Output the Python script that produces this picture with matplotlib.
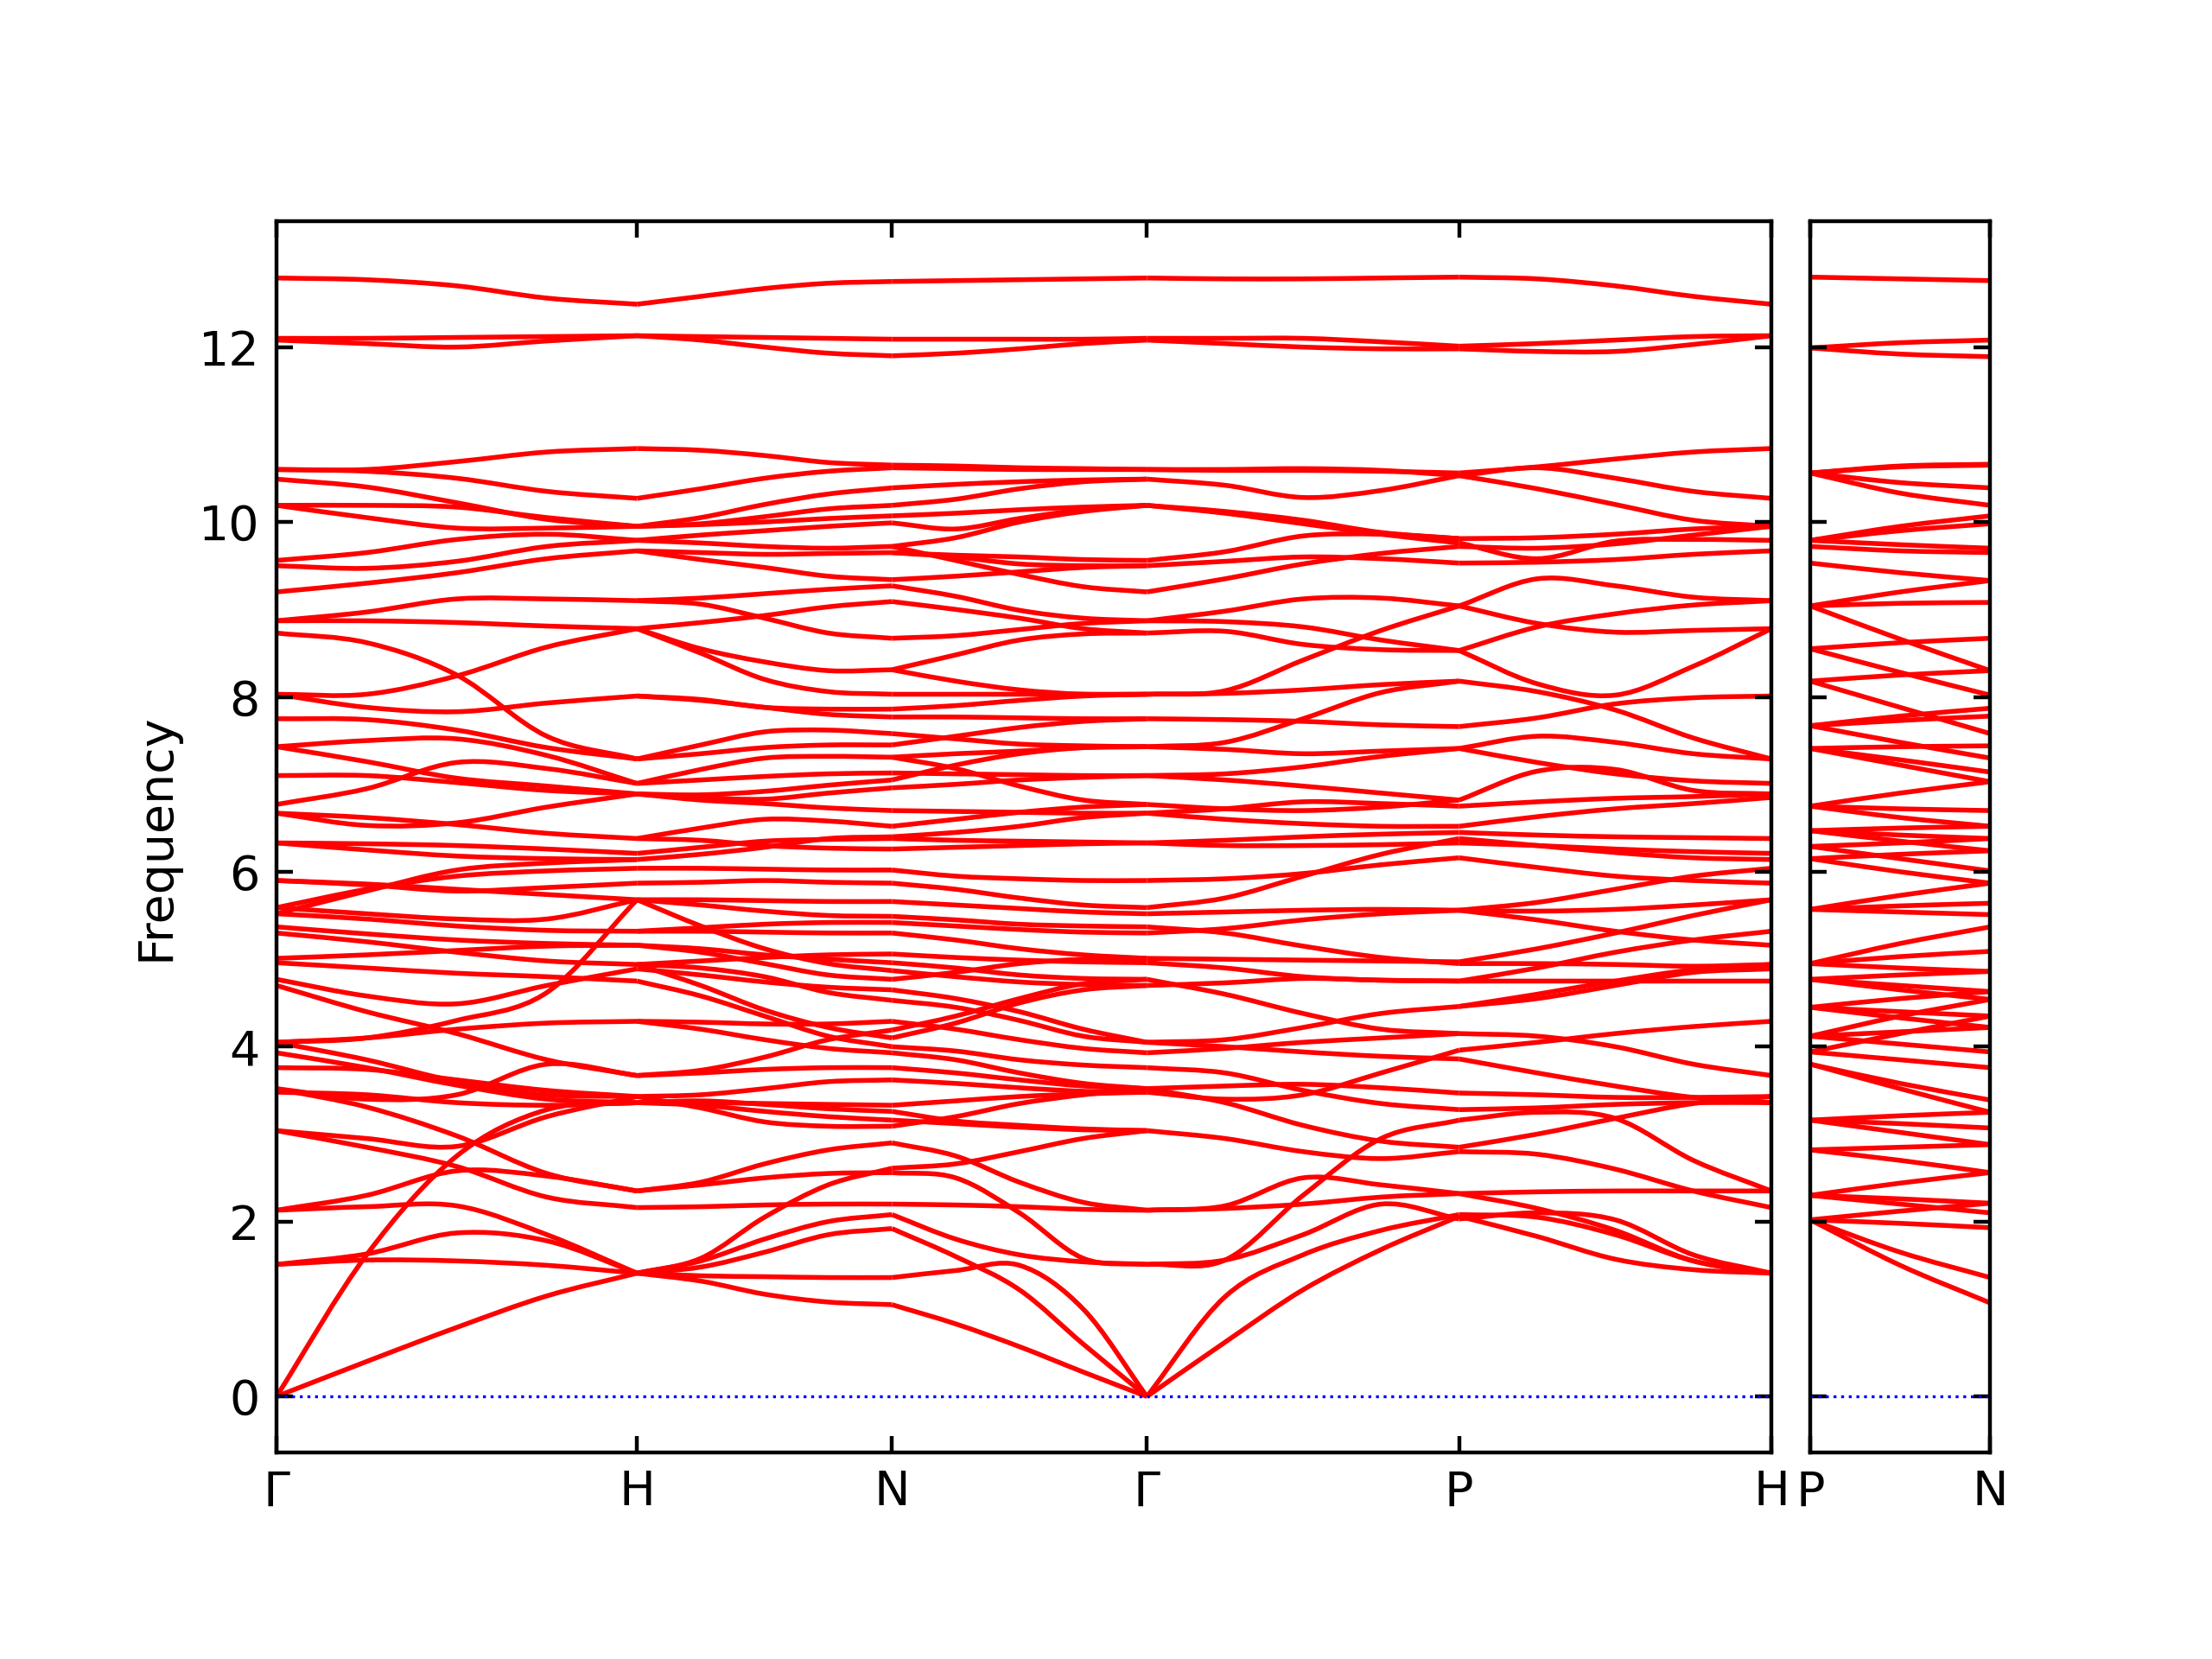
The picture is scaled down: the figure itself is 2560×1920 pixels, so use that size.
import numpy as np
import matplotlib
matplotlib.use("Agg")
import matplotlib.pyplot as plt
from matplotlib.path import Path
from matplotlib.patches import PathPatch

# path: Γ-H-N-Γ-P-H | P-N  (segment lengths in 2π/a)
labels_main = ["Γ", "H", "N", "Γ", "P", "H"]
labels_side = ["P", "N"]
seg_lengths = [1.0, 0.7071, 0.7071, 0.8660, 0.8660]
side_length = 0.5
frac = [0.0, 0.25, 0.5, 0.75, 1.0]
frac_side = [0.0, 0.5, 1.0]

# frequencies sampled at frac along each segment
band_GH = [
    [12.79, 12.77, 12.70, 12.56, 12.49], [12.10, 12.10, 12.11, 12.12, 12.13],
    [12.08, 12.04, 12.00, 12.07, 12.13], [10.60, 10.60, 10.69, 10.80, 10.84],
    [10.60, 10.58, 10.50, 10.35, 10.27], [10.49, 10.40, 10.22, 10.03, 9.95],
    [10.19, 10.19, 10.17, 10.05, 9.95], [10.19, 10.05, 9.93, 9.93, 9.95],
    [9.56, 9.65, 9.80, 9.86, 9.79], [9.50, 9.47, 9.55, 9.72, 9.79],
    [9.20, 9.30, 9.42, 9.58, 9.67], [8.87, 8.97, 9.12, 9.12, 9.10],
    [8.87, 8.87, 8.85, 8.81, 8.78], [8.73, 8.62, 8.25, 7.55, 7.29],
    [8.03, 8.03, 8.24, 8.57, 8.78], [8.03, 7.88, 7.83, 7.93, 8.01],
    [7.75, 7.74, 7.62, 7.42, 7.29], [7.43, 7.50, 7.52, 7.33, 7.01],
    [7.43, 7.26, 7.07, 6.98, 6.89], [7.10, 7.10, 7.02, 6.93, 6.89],
    [6.77, 6.95, 7.25, 7.18, 7.01], [6.67, 6.53, 6.56, 6.74, 6.89],
    [6.67, 6.62, 6.54, 6.44, 6.38], [6.33, 6.32, 6.30, 6.26, 6.21],
    [6.33, 6.25, 6.18, 6.15, 6.14], [5.90, 5.85, 5.78, 5.82, 5.87],
    [5.59, 5.80, 5.95, 6.01, 6.04], [5.52, 5.78, 6.02, 6.10, 6.14],
    [5.59, 5.52, 5.46, 5.46, 5.68], [5.90, 5.86, 5.80, 5.74, 5.68],
    [5.52, 5.46, 5.38, 5.33, 5.32], [5.37, 5.29, 5.22, 5.18, 5.16],
    [5.30, 5.20, 5.08, 4.98, 4.94], [5.01, 5.05, 5.10, 5.15, 5.16],
    [4.96, 4.90, 4.84, 4.80, 4.75], [4.77, 4.58, 4.49, 4.70, 4.89],
    [4.70, 4.40, 4.15, 3.85, 3.67], [4.05, 4.10, 4.30, 4.62, 5.68],
    [4.05, 4.10, 4.20, 4.27, 4.29], [4.05, 3.85, 3.60, 3.45, 3.43],
    [3.93, 3.76, 3.56, 3.40, 3.36], [3.76, 3.74, 3.62, 3.50, 3.43],
    [3.52, 3.40, 3.45, 3.80, 3.67], [3.52, 3.31, 2.98, 2.55, 2.35],
    [3.48, 3.45, 3.36, 3.33, 3.36], [3.04, 2.95, 2.86, 3.20, 3.43],
    [3.04, 2.85, 2.63, 2.28, 2.16], [2.13, 2.30, 2.58, 2.52, 2.35],
    [2.13, 2.17, 2.18, 1.85, 1.41], [1.51, 1.63, 1.87, 1.78, 1.41],
    [1.51, 1.56, 1.55, 1.50, 1.41], [0.00, 1.62, 2.75, 3.28, 3.36],
    [0.00, 0.40, 0.79, 1.15, 1.41],
]

band_HN = [
    [12.49, 12.58, 12.67, 12.73, 12.75], [12.13, 12.12, 12.11, 12.10, 12.09],
    [12.13, 12.08, 12.00, 11.93, 11.90], [10.84, 10.82, 10.76, 10.68, 10.65],
    [10.27, 10.38, 10.50, 10.58, 10.62], [9.95, 10.05, 10.20, 10.32, 10.39],
    [9.95, 9.98, 10.06, 10.15, 10.19], [9.95, 9.97, 10.00, 10.04, 10.07],
    [9.79, 9.85, 9.90, 9.95, 9.99], [9.79, 9.76, 9.72, 9.70, 9.72],
    [9.67, 9.65, 9.63, 9.64, 9.65], [9.67, 9.57, 9.48, 9.38, 9.34],
    [9.10, 9.13, 9.18, 9.23, 9.27], [9.10, 9.06, 8.90, 8.73, 8.67],
    [8.78, 8.85, 8.93, 9.03, 9.09], [8.78, 8.55, 8.40, 8.30, 8.31],
    [8.78, 8.50, 8.20, 8.06, 8.03], [8.01, 7.97, 7.88, 7.86, 7.86],
    [8.01, 7.96, 7.88, 7.80, 7.77], [7.29, 7.45, 7.60, 7.62, 7.58],
    [7.29, 7.35, 7.42, 7.45, 7.45], [7.01, 7.17, 7.30, 7.32, 7.31],
    [7.01, 7.05, 7.09, 7.12, 7.13], [6.89, 6.88, 6.92, 6.99, 7.05],
    [6.89, 6.85, 6.83, 6.90, 6.96], [6.89, 6.82, 6.78, 6.73, 6.70],
    [6.38, 6.50, 6.60, 6.58, 6.52], [6.21, 6.28, 6.35, 6.37, 6.38],
    [6.38, 6.36, 6.30, 6.27, 6.26], [6.14, 6.20, 6.28, 6.38, 6.40],
    [6.04, 6.04, 6.03, 6.02, 6.02], [5.87, 5.88, 5.90, 5.88, 5.87],
    [5.68, 5.68, 5.67, 5.66, 5.66], [5.68, 5.62, 5.55, 5.50, 5.49],
    [5.68, 5.38, 5.12, 4.95, 4.87], [5.32, 5.32, 5.31, 5.30, 5.30],
    [5.32, 5.36, 5.40, 5.42, 5.42], [5.16, 5.12, 5.05, 5.00, 4.96],
    [5.16, 5.08, 4.95, 4.82, 4.77], [4.94, 4.70, 4.42, 4.22, 4.10],
    [4.89, 4.82, 4.74, 4.68, 4.65], [4.94, 4.90, 4.80, 4.62, 4.53],
    [4.94, 4.98, 5.02, 5.05, 5.06],
    [4.75, 4.58, 4.35, 4.12, 4.00], [4.29, 4.28, 4.26, 4.26, 4.29],
    [4.29, 4.20, 4.08, 3.98, 3.93], [3.67, 3.73, 3.88, 4.08, 4.19],
    [3.67, 3.70, 3.74, 3.76, 3.76], [3.43, 3.45, 3.52, 3.60, 3.62],
    [3.43, 3.30, 3.14, 3.09, 3.09], [3.36, 3.33, 3.26, 3.20, 3.16],
    [3.36, 3.36, 3.35, 3.34, 3.33], [3.36, 3.38, 3.34, 3.29, 3.26],
    [2.35, 2.45, 2.66, 2.82, 2.90], [2.35, 2.42, 2.50, 2.55, 2.56],
    [2.16, 2.17, 2.19, 2.20, 2.20], [1.41, 1.58, 2.05, 2.42, 2.61],
    [1.41, 1.55, 1.80, 2.00, 2.08], [1.41, 1.48, 1.65, 1.85, 1.92],
    [1.41, 1.38, 1.37, 1.36, 1.36], [1.41, 1.32, 1.17, 1.08, 1.05],
]

band_NG = [
    [12.75, 12.76, 12.77, 12.78, 12.79], [12.09, 12.09, 12.09, 12.09, 12.10],
    [11.90, 11.93, 11.98, 12.04, 12.08], [10.65, 10.64, 10.62, 10.61, 10.60],
    [10.62, 10.61, 10.60, 10.60, 10.60], [10.39, 10.43, 10.46, 10.48, 10.49],
    [10.19, 10.26, 10.38, 10.46, 10.49], [10.07, 10.10, 10.14, 10.17, 10.19],
    [9.99, 9.92, 10.04, 10.14, 10.19], [9.72, 9.82, 10.00, 10.12, 10.19],
    [9.65, 9.62, 9.60, 9.57, 9.56], [9.65, 9.60, 9.52, 9.50, 9.50],
    [9.72, 9.56, 9.40, 9.26, 9.20], [9.34, 9.38, 9.43, 9.48, 9.50],
    [9.27, 9.15, 8.99, 8.90, 8.87], [9.09, 9.00, 8.90, 8.78, 8.73],
    [8.67, 8.70, 8.77, 8.84, 8.87], [8.31, 8.48, 8.65, 8.72, 8.73],
    [8.31, 8.18, 8.08, 8.03, 8.03], [8.03, 8.03, 8.03, 8.03, 8.03],
    [7.86, 7.90, 7.96, 8.01, 8.03], [7.77, 7.77, 7.76, 7.75, 7.75],
    [7.58, 7.52, 7.46, 7.44, 7.43], [7.45, 7.55, 7.65, 7.72, 7.75],
    [7.31, 7.35, 7.38, 7.42, 7.43], [7.31, 7.18, 6.98, 6.82, 6.77],
    [7.13, 7.12, 7.11, 7.10, 7.10], [7.05, 7.22, 7.35, 7.42, 7.43],
    [6.96, 7.00, 7.05, 7.08, 7.10], [6.70, 6.69, 6.68, 6.67, 6.67],
    [6.52, 6.60, 6.68, 6.74, 6.77], [6.40, 6.45, 6.52, 6.62, 6.67],
    [6.38, 6.36, 6.35, 6.34, 6.33], [6.26, 6.28, 6.30, 6.32, 6.33],
    [6.02, 5.95, 5.92, 5.90, 5.90], [5.87, 5.80, 5.70, 5.62, 5.59],
    [5.66, 5.62, 5.58, 5.54, 5.52], [5.49, 5.45, 5.40, 5.38, 5.37],
    [5.42, 5.38, 5.34, 5.31, 5.30], [5.30, 5.22, 5.12, 5.05, 5.01],
    [5.06, 5.02, 4.99, 4.97, 4.96], [4.96, 4.90, 4.82, 4.78, 4.77],
    [4.87, 4.80, 4.74, 4.71, 4.70], [4.77, 4.85, 4.95, 5.00, 5.01],
    [4.65, 4.55, 4.40, 4.20, 4.05], [4.53, 4.45, 4.30, 4.12, 4.05],
    [4.29, 4.20, 4.08, 3.98, 3.93], [4.19, 4.35, 4.55, 4.72, 4.77],
    [4.10, 4.27, 4.50, 4.65, 4.70], [4.00, 3.95, 3.85, 3.79, 3.76],
    [3.93, 3.85, 3.70, 3.58, 3.52], [3.76, 3.70, 3.62, 3.55, 3.52],
    [3.62, 3.58, 3.53, 3.49, 3.48], [3.33, 3.38, 3.43, 3.46, 3.48],
    [3.26, 3.15, 3.10, 3.06, 3.04],
    [3.16, 3.12, 3.08, 3.05, 3.04], [3.09, 3.20, 3.35, 3.45, 3.52],
    [2.90, 2.75, 2.45, 2.22, 2.13], [2.61, 2.66, 2.80, 2.95, 3.04],
    [2.56, 2.50, 2.10, 1.58, 1.51], [2.20, 2.19, 2.17, 2.14, 2.13],
    [2.08, 1.80, 1.62, 1.54, 1.51], [1.92, 1.60, 1.22, 0.60, 0.00],
    [1.36, 1.44, 1.50, 1.00, 0.00], [1.05, 0.83, 0.57, 0.28, 0.00],
]

band_GP = [
    [12.79, 12.78, 12.78, 12.79, 12.80], [12.10, 12.10, 12.10, 12.06, 12.01],
    [12.08, 12.04, 12.00, 11.98, 11.98], [10.60, 10.59, 10.59, 10.58, 10.56],
    [10.60, 10.60, 10.61, 10.59, 10.53], [10.49, 10.42, 10.28, 10.36, 10.53],
    [10.19, 10.10, 9.98, 9.86, 9.76], [10.19, 10.12, 10.02, 9.88, 9.81],
    [9.56, 9.66, 9.84, 9.86, 9.81], [9.50, 9.55, 9.60, 9.58, 9.53],
    [9.20, 9.35, 9.52, 9.64, 9.72], [8.87, 8.98, 9.12, 9.13, 9.04],
    [8.87, 8.86, 8.80, 8.65, 8.53], [8.73, 8.75, 8.60, 8.54, 8.53],
    [8.03, 8.07, 8.42, 8.76, 9.04], [8.03, 8.04, 8.08, 8.14, 8.18],
    [7.75, 7.74, 7.72, 7.68, 7.66], [7.43, 7.48, 7.75, 8.05, 8.18],
    [7.43, 7.40, 7.35, 7.38, 7.41], [7.10, 7.12, 7.20, 7.32, 7.41],
    [7.10, 7.05, 6.98, 6.90, 6.82], [6.77, 6.72, 6.70, 6.74, 6.82],
    [6.67, 6.72, 6.80, 6.78, 6.75], [6.67, 6.60, 6.55, 6.52, 6.52],
    [6.33, 6.36, 6.40, 6.43, 6.45], [6.33, 6.30, 6.30, 6.31, 6.33],
    [5.90, 5.92, 5.98, 6.08, 6.16], [5.59, 5.70, 5.95, 6.20, 6.38],
    [5.52, 5.54, 5.56, 5.57, 5.56], [5.37, 5.30, 5.15, 5.02, 4.95],
    [5.30, 5.35, 5.45, 5.52, 5.56], [5.01, 5.00, 4.99, 4.98, 4.97],
    [4.96, 4.90, 4.80, 4.76, 4.75], [4.77, 4.60, 4.38, 4.20, 4.15],
    [4.70, 4.73, 4.78, 4.76, 4.75], [4.05, 4.08, 4.22, 4.38, 4.46],
    [4.05, 4.00, 3.94, 3.89, 3.86], [3.93, 3.98, 4.05, 4.10, 4.15],
    [3.76, 3.70, 3.50, 3.35, 3.28], [3.52, 3.55, 3.57, 3.53, 3.47],
    [3.52, 3.36, 3.10, 2.92, 2.85], [3.48, 3.40, 3.45, 3.70, 3.96],
    [3.04, 2.95, 2.80, 2.72, 2.80], [2.13, 2.18, 2.50, 2.42, 2.32],
    [2.13, 2.15, 2.20, 2.28, 2.32], [1.51, 1.56, 2.30, 2.95, 3.16],
    [1.51, 1.56, 1.85, 2.20, 2.03], [0.00, 1.14, 1.62, 1.90, 2.08],
    [0.00, 0.62, 1.22, 1.68, 2.06],
]

band_PH = [
    [12.80, 12.78, 12.70, 12.58, 12.49], [12.01, 12.04, 12.08, 12.12, 12.13],
    [11.98, 11.95, 11.95, 12.03, 12.13], [10.56, 10.63, 10.72, 10.80, 10.84],
    [10.53, 10.62, 10.50, 10.35, 10.27], [10.53, 10.38, 10.20, 10.02, 9.95],
    [9.81, 9.82, 9.86, 9.92, 9.95], [9.76, 9.58, 9.78, 9.80, 9.79],
    [9.72, 9.70, 9.75, 9.85, 9.95], [9.53, 9.54, 9.57, 9.63, 9.67],
    [9.04, 9.35, 9.27, 9.14, 9.10], [9.04, 8.84, 8.74, 8.76, 8.78],
    [8.53, 8.80, 8.95, 9.05, 9.10], [8.53, 8.15, 8.02, 8.35, 8.78],
    [8.18, 8.06, 7.85, 7.53, 7.29], [7.66, 7.76, 7.92, 7.99, 8.01],
    [7.41, 7.55, 7.48, 7.35, 7.29], [7.41, 7.25, 7.12, 7.04, 7.01],
    [6.82, 7.15, 7.17, 6.93, 6.89], [6.75, 6.80, 6.84, 6.86, 6.89],
    [6.52, 6.63, 6.72, 6.78, 6.85], [6.45, 6.42, 6.40, 6.39, 6.38],
    [6.33, 6.30, 6.26, 6.23, 6.21], [6.16, 6.05, 5.95, 5.90, 5.87],
    [6.38, 6.30, 6.22, 6.16, 6.14], [5.56, 5.65, 5.80, 5.95, 6.04],
    [5.56, 5.45, 5.32, 5.22, 5.16], [5.56, 5.55, 5.57, 5.62, 5.68],
    [4.97, 5.12, 5.30, 5.50, 5.68], [4.95, 4.95, 4.94, 4.92, 4.94],
    [4.75, 4.90, 5.08, 5.22, 5.32], [4.75, 4.75, 4.75, 4.75, 4.75],
    [4.46, 4.60, 4.75, 4.88, 4.94], [4.46, 4.55, 4.70, 4.85, 4.89],
    [4.15, 4.12, 4.00, 3.80, 3.67], [3.96, 4.05, 4.15, 4.23, 4.29],
    [3.86, 3.70, 3.55, 3.42, 3.36], [3.47, 3.45, 3.42, 3.42, 3.43],
    [3.28, 3.30, 3.34, 3.36, 3.36], [3.16, 3.25, 3.18, 2.70, 2.35],
    [2.85, 3.00, 3.18, 3.35, 3.43], [2.80, 2.77, 2.60, 2.35, 2.16],
    [2.32, 2.34, 2.35, 2.35, 2.35], [2.32, 2.15, 1.90, 1.55, 1.41],
    [2.08, 2.05, 1.85, 1.55, 1.41], [2.06, 1.83, 1.57, 1.45, 1.41],
    [2.03, 2.10, 2.02, 1.62, 1.41],
]

# P-N panel, sampled at frac_side
band_PN = [
    [12.80, 12.78, 12.76], [11.99, 12.05, 12.08], [11.99, 11.92, 11.89],
    [10.56, 10.63, 10.65], [10.56, 10.64, 10.66], [10.56, 10.45, 10.39],
    [10.56, 10.33, 10.19], [9.79, 9.95, 10.07], [9.79, 9.90, 9.98],
    [9.79, 9.74, 9.70], [9.72, 9.67, 9.65], [9.53, 9.42, 9.33],
    [9.04, 9.20, 9.33], [9.04, 9.07, 9.08], [9.04, 8.66, 8.30],
    [8.55, 8.62, 8.67], [8.55, 8.28, 8.02], [8.18, 8.25, 8.30],
    [8.18, 7.88, 7.58], [7.67, 7.78, 7.87], [7.67, 7.73, 7.78],
    [7.67, 7.48, 7.30], [7.41, 7.43, 7.44], [7.41, 7.28, 7.14],
    [7.41, 7.22, 7.03], [6.75, 6.90, 7.03], [6.75, 6.72, 6.70],
    [6.75, 6.62, 6.52], [6.47, 6.50, 6.52], [6.47, 6.42, 6.38],
    [6.47, 6.35, 6.24], [6.29, 6.33, 6.38], [6.29, 6.15, 6.01],
    [6.15, 6.20, 6.24], [6.15, 6.00, 5.87], [5.57, 5.73, 5.87],
    [5.57, 5.61, 5.64], [5.57, 5.54, 5.51], [4.95, 5.18, 5.37],
    [4.95, 5.03, 5.09], [4.95, 4.90, 4.86], [4.77, 4.82, 4.86],
    [4.77, 4.70, 4.63], [4.77, 4.65, 4.54], [4.45, 4.40, 4.35],
    [4.45, 4.55, 4.63], [4.45, 4.33, 4.22], [4.12, 4.17, 4.22],
    [4.12, 4.03, 3.94], [4.12, 4.35, 4.54], [3.94, 3.85, 3.76],
    [3.94, 4.15, 4.35], [3.80, 3.58, 3.39], [3.80, 3.52, 3.25],
    [3.16, 3.12, 3.07], [3.16, 3.21, 3.25], [3.16, 3.02, 2.88],
    [2.82, 2.70, 2.56], [2.82, 2.85, 2.88], [2.30, 2.44, 2.56],
    [2.30, 2.26, 2.21], [2.30, 2.20, 2.10], [2.02, 2.12, 2.21],
    [2.02, 1.98, 1.93], [2.02, 1.65, 1.36], [2.02, 1.50, 1.07],
]

segments = [band_GH, band_HN, band_NG, band_GP, band_PH]


def draw_band(ax, x, y, **kw):
    # smooth path (cubic Bezier) through the read samples
    x = np.asarray(x, float)
    y = np.asarray(y, float)
    n = len(x)
    ty = np.empty(n)
    ty[0] = y[1] - y[0]
    ty[-1] = y[-1] - y[-2]
    ty[1:-1] = (y[2:] - y[:-2]) / 2
    verts = [(x[0], y[0])]
    codes = [Path.MOVETO]
    for i in range(n - 1):
        dx = x[i + 1] - x[i]
        verts += [(x[i] + dx / 3, y[i] + ty[i] / 3),
                  (x[i + 1] - dx / 3, y[i + 1] - ty[i + 1] / 3),
                  (x[i + 1], y[i + 1])]
        codes += [Path.CURVE4] * 3
    ax.add_patch(PathPatch(Path(verts, codes), fill=False, **kw))


fig = plt.figure(figsize=(6.4, 4.8), dpi=400)
ax = fig.add_axes([0.125, 0.1245, 0.6758, 0.7422])
ax2 = fig.add_axes([0.8184, 0.1245, 0.0813, 0.7422])

# main path
ticks = np.concatenate([[0.0], np.cumsum(seg_lengths)])
for i, bands in enumerate(segments):
    x = ticks[i] + np.array(frac) * seg_lengths[i]
    for b in bands:
        draw_band(ax, x, b, edgecolor="r", linewidth=1.0)

# side panel P-N
xs = np.array(frac_side) * side_length
for b in band_PN:
    draw_band(ax2, xs, b, edgecolor="r", linewidth=1.0)

for a, xmax in [(ax, ticks[-1]), (ax2, side_length)]:
    a.axhline(0, color="b", linestyle=":", linewidth=0.6)
    a.set_xlim(0, xmax)
    a.set_ylim(-0.64, 13.44)
    a.set_yticks([0, 2, 4, 6, 8, 10, 12])
    a.tick_params(direction="in", top=True, right=True)

ax.set_xticks(ticks)
ax.set_xticklabels(labels_main)
ax.set_ylabel("Frequency")
ax2.set_xticks([0, side_length])
ax2.set_xticklabels(labels_side)
ax2.set_yticklabels([])

plt.savefig("out.png", dpi=400)
